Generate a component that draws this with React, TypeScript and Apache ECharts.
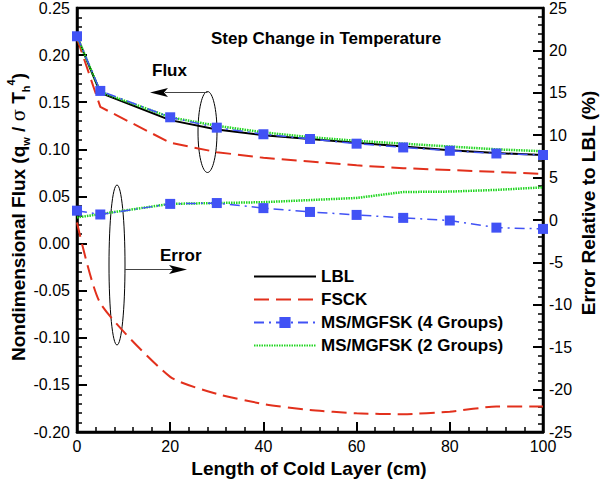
import React, { useEffect, useRef } from "react";
import * as echarts from "echarts";

const xs = [0, 5, 20, 30, 40, 50, 60, 70, 80, 90, 100];
const lblFlux = [0.22, 0.16, 0.131, 0.121, 0.115, 0.111, 0.107, 0.103, 0.099, 0.096, 0.094];
const fsckFlux = [0.218, 0.145, 0.107, 0.097, 0.091, 0.087, 0.083, 0.08, 0.078, 0.076, 0.074];
const ms4Flux = [0.22, 0.162, 0.134, 0.123, 0.116, 0.111, 0.106, 0.102, 0.0985, 0.0956, 0.094];
const ms2Flux = [0.22, 0.161, 0.134, 0.125, 0.118, 0.113, 0.109, 0.106, 0.103, 0.1, 0.098];
const fsckErr = [-0.3, -9.8, -18.5, -20.5, -21.7, -22.4, -22.8, -22.9, -22.6, -22.0, -22.0];
const ms4Err = [1.1, 0.65, 1.9, 2.0, 1.4, 0.95, 0.6, 0.25, -0.06, -0.9, -1.05];
const ms2Err = [0.3, 0.7, 1.9, 2.0, 2.1, 2.35, 2.6, 3.3, 3.35, 3.55, 3.85];
const legendNames = ["LBL", "FSCK", "MS/MGFSK (4 Groups)", "MS/MGFSK (2 Groups)"];
const legendWithMarker = ["MS/MGFSK (4 Groups)"];

const FONT = "'Liberation Sans', Arial, Helvetica, sans-serif";
const RED = "#e2301c";
const BLUE = "#4152f5";
const GREEN = "#22d622";

const pair = (ys: number[]) => xs.map((x, i) => [x, ys[i]]);

export default function App() {
  const ref = useRef<HTMLDivElement>(null);
  useEffect(() => {
    if (!ref.current) return;
    const chart = echarts.init(ref.current, null, { renderer: "svg" });
    const axisCommon = {
      axisLine: { show: true, onZero: false, lineStyle: { color: "#000", width: 2.5 } },
      axisTick: { show: true, inside: true, length: 10, lineStyle: { color: "#000", width: 2 } },
      minorTick: { show: true, splitNumber: 5, length: 5, lineStyle: { color: "#000", width: 1.5 } },
      splitLine: { show: false },
      minorSplitLine: { show: false },
    };
    const blackLine = { color: "#000", width: 2, type: "solid" as const };
    const redLine = { color: RED, width: 2, type: [15, 7] };
    const blueLine = { color: BLUE, width: 1.5, type: [10, 5, 2, 5] };
    const greenLine = { color: GREEN, width: 2.5, type: [1.5, 1] };
    chart.setOption({
      animation: false,
      grid: { left: 77, right: 57, top: 7, bottom: 50, show: true, borderColor: "#000", borderWidth: 2.5, backgroundColor: "transparent" },
      legend: {
        data: legendNames.map((n) =>
          legendWithMarker.includes(n) ? { name: n } : { name: n, itemStyle: { opacity: 0 } }
        ),
        orient: "vertical",
        left: 248,
        top: 263,
        padding: 5,
        itemWidth: 62,
        itemHeight: 14,
        itemGap: 6,
        textStyle: { fontFamily: FONT, fontWeight: "bold", fontSize: 17, color: "#000", lineHeight: 17 },
      },
      xAxis: {
        type: "value",
        min: 0,
        max: 100,
        interval: 20,
        ...axisCommon,
        axisLabel: { color: "#000", fontSize: 16, fontFamily: FONT, margin: 6 },
      },
      yAxis: [
        {
          type: "value",
          min: -0.2,
          max: 0.25,
          interval: 0.05,
          position: "left",
          ...axisCommon,
          axisLabel: {
            color: "#000",
            fontSize: 16,
            fontFamily: FONT,
            margin: 7,
            formatter: (v: number) => (Math.abs(v) < 1e-9 ? "0.00" : v.toFixed(2)),
          },
        },
        {
          type: "value",
          min: -25,
          max: 25,
          interval: 5,
          position: "right",
          ...axisCommon,
          axisLabel: { color: "#000", fontSize: 16, fontFamily: FONT, margin: 6 },
        },
      ],
      series: [
        { name: "LBL", type: "line", yAxisIndex: 0, data: pair(lblFlux), symbol: "none", lineStyle: blackLine, itemStyle: { color: "#000" } },
        { name: "FSCK", type: "line", yAxisIndex: 0, data: pair(fsckFlux), symbol: "none", lineStyle: redLine, itemStyle: { color: RED } },
        { name: "MS/MGFSK (4 Groups)", type: "line", yAxisIndex: 0, data: pair(ms4Flux), symbol: "rect", symbolSize: 10, lineStyle: blueLine, itemStyle: { color: BLUE }, z: 4 },
        { name: "MS/MGFSK (2 Groups)", type: "line", yAxisIndex: 0, data: pair(ms2Flux), symbol: "none", lineStyle: greenLine, itemStyle: { color: GREEN }, z: 3 },
        { name: "FSCK", type: "line", yAxisIndex: 1, data: pair(fsckErr), symbol: "none", smooth: 0.2, lineStyle: redLine, itemStyle: { color: RED } },
        { name: "MS/MGFSK (4 Groups)", type: "line", yAxisIndex: 1, data: pair(ms4Err), symbol: "rect", symbolSize: 10, lineStyle: blueLine, itemStyle: { color: BLUE }, z: 4 },
        { name: "MS/MGFSK (2 Groups)", type: "line", yAxisIndex: 1, data: pair(ms2Err), symbol: "none", lineStyle: greenLine, itemStyle: { color: GREEN }, z: 3 },
      ],
      graphic: [
        {
          type: "text",
          x: 211,
          y: 38,
          style: { text: "Step Change in Temperature", font: `bold 17px ${FONT}`, fill: "#000", align: "left", verticalAlign: "middle" },
        },
        {
          type: "text",
          x: 152,
          y: 70,
          style: { text: "Flux", font: `bold 17px ${FONT}`, fill: "#000", align: "left", verticalAlign: "middle" },
        },
        {
          type: "text",
          x: 160,
          y: 255,
          style: { text: "Error", font: `bold 17px ${FONT}`, fill: "#000", align: "left", verticalAlign: "middle" },
        },
        { type: "ellipse", shape: { cx: 207.5, cy: 132, rx: 9.5, ry: 40.5 }, style: { fill: "none", stroke: "#000", lineWidth: 1 } },
        { type: "line", shape: { x1: 207.5, y1: 92.5, x2: 165, y2: 92.5 }, style: { stroke: "#444", lineWidth: 1 } },
        { type: "polygon", shape: { points: [[150, 92.5], [168, 88], [164, 92.5], [168, 97]] }, style: { fill: "#000" } },
        { type: "ellipse", shape: { cx: 117, cy: 265, rx: 8, ry: 80 }, style: { fill: "none", stroke: "#000", lineWidth: 1 } },
        { type: "line", shape: { x1: 125, y1: 269.5, x2: 175, y2: 269.5 }, style: { stroke: "#444", lineWidth: 1 } },
        { type: "polygon", shape: { points: [[187, 269.5], [169, 265], [173, 269.5], [169, 274]] }, style: { fill: "#000" } },
        {
          type: "text",
          x: 309,
          y: 468,
          style: { text: "Length of Cold Layer (cm)", font: `bold 19px ${FONT}`, fill: "#000", align: "center", verticalAlign: "middle" },
        },
        {
          type: "text",
          x: 588,
          y: 203,
          rotation: Math.PI / 2,
          style: { text: "Error Relative to LBL (%)", font: `bold 19px ${FONT}`, fill: "#000", align: "center", verticalAlign: "middle" },
        },
        {
          type: "text",
          x: 18,
          y: 217,
          rotation: Math.PI / 2,
          style: {
            text: "{a|Nondimensional Flux (q}{sub|w}{a| / }{s|σ}{a| T}{sub|h}{sup|4}{a|)}",
            align: "center",
            verticalAlign: "middle",
            fill: "#000",
            rich: {
              a: { fontFamily: FONT, fontWeight: "bold", fontSize: 19, lineHeight: 26, fill: "#000" },
              s: { fontFamily: "'DejaVu Serif', serif", fontSize: 18, lineHeight: 26, fill: "#000" },
              sub: { fontFamily: FONT, fontWeight: "bold", fontSize: 11, lineHeight: 11, verticalAlign: "bottom", fill: "#000" },
              sup: { fontFamily: FONT, fontWeight: "bold", fontSize: 11, lineHeight: 11, verticalAlign: "top", fill: "#000" },
            },
          },
        },
      ],
    });
    return () => chart.dispose();
  }, []);
  return <div ref={ref} style={{ position: "absolute", left: 0, top: 0, width: 600, height: 482 }} />;
}
